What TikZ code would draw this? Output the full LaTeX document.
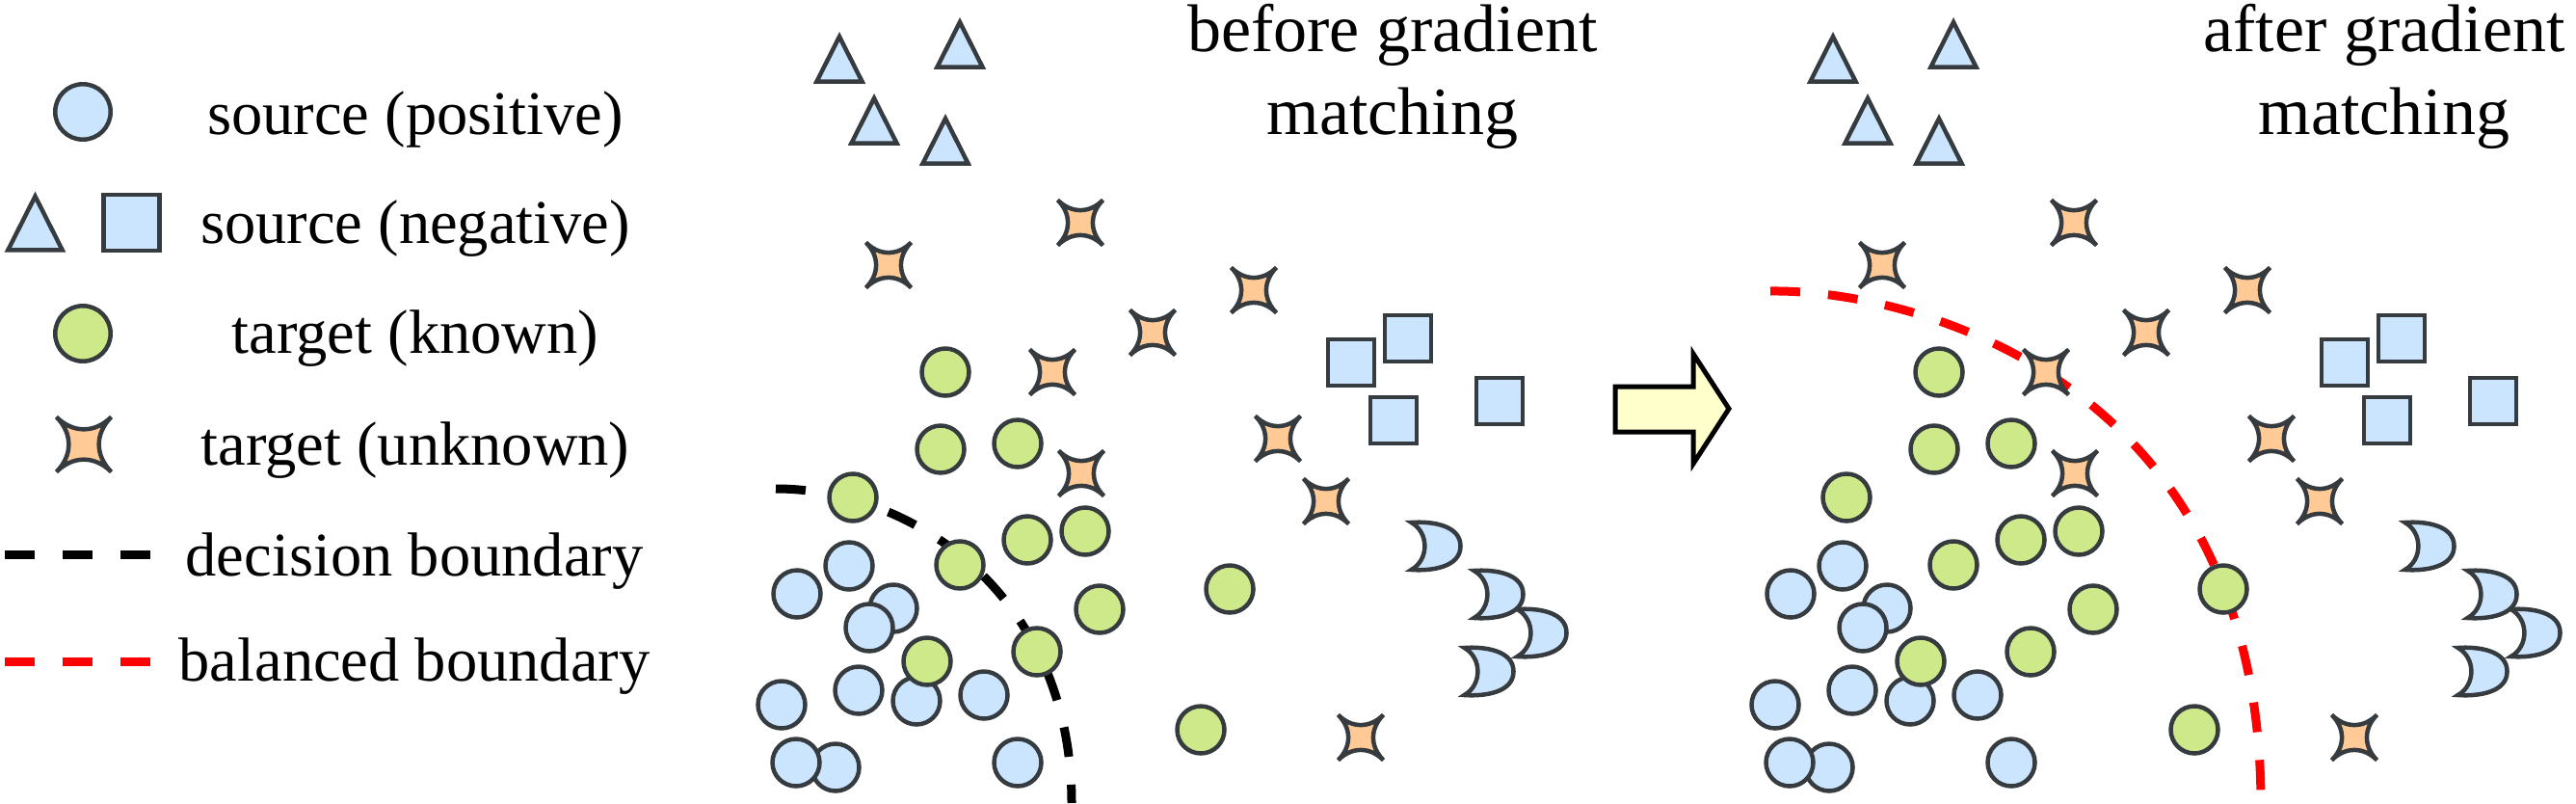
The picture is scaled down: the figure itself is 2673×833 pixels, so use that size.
\documentclass[tikz,border=0pt]{standalone}
\usepackage{fontspec}
\setmainfont{Liberation Serif}
\definecolor{olc}{HTML}{363B40}
\definecolor{bfill}{HTML}{CCE5FF}
\definecolor{gfill}{HTML}{CDE98A}
\definecolor{ofill}{HTML}{FFCA96}
\definecolor{afill}{HTML}{FFFFCC}
\tikzset{
  shapeline/.style={draw=olc, line width=4.5pt},
  pics/bdot/.style={code={\path[shapeline, fill=bfill] (0,0) circle[radius=#1];}},
  pics/bdot/.default=24.5,
  pics/gdot/.style={code={\path[shapeline, fill=gfill] (0,0) circle[radius=#1];}},
  pics/gdot/.default=24.5,
  pics/tri/.style={code={\path[shapeline, fill=bfill] (0,-22*#1) -- (23.5*#1,24.5*#1) -- (-23.5*#1,24.5*#1) -- cycle;}},
  pics/tri/.default=1,
  pics/sq/.style={code={\path[shapeline, fill=bfill] (-#1,-#1) rectangle (#1,#1);}},
  pics/sq/.default=24,
  pics/star4/.style={code={\path[shapeline, fill=ofill]
     (-#1,-#1) .. controls (-0.4*#1,-0.4*#1) and (0.4*#1,-0.4*#1) .. (#1,-#1)
     .. controls (0.4*#1,-0.4*#1) and (0.4*#1,0.4*#1) .. (#1,#1)
     .. controls (0.4*#1,0.4*#1) and (-0.4*#1,0.4*#1) .. (-#1,#1)
     .. controls (-0.4*#1,0.4*#1) and (-0.4*#1,-0.4*#1) .. (-#1,-#1) -- cycle;}},
  pics/star4/.default=23.5,
  pics/moon/.style={code={\path[shapeline, fill=bfill]
     (-25.5,-24.5) .. controls (-5,-26) and (25.5,-22) .. (25.5,0)
     .. controls (25.5,22) and (-5,26) .. (-25.5,24.5)
     .. controls (-7,14) and (-7,-14) .. (-25.5,-24.5) -- cycle;}},
  boundary/.style={line width=9pt, dash pattern=on 31pt off 29pt},
  legtext/.style={font=\fontsize{64.5pt}{77pt}\selectfont, inner sep=0pt, anchor=base},
  ttl/.style={font=\fontsize{70pt}{84pt}\selectfont, inner sep=0pt, anchor=base},
}
\newcommand\drawpanel{%
  % triangles
  \pic at (871,60) {tri};
  \pic at (996,45) {tri};
  \pic at (907,124) {tri};
  \pic at (981,145) {tri};
  % stars
  \pic at (922,275) {star4};
  \pic at (1121,231) {star4};
  \pic at (1301,301) {star4};
  \pic at (1196,345) {star4};
  \pic at (1092,386) {star4};
  \pic at (1326,455) {star4};
  \pic at (1122,491) {star4};
  \pic at (1376,520) {star4};
  \pic at (1412,765) {star4};
  % squares
  \pic at (1402,376) {sq};
  \pic at (1461,351) {sq};
  \pic at (1446,436) {sq};
  \pic at (1556,416) {sq};
  % moons
  \pic at (1490,566.5) {moon};
  \pic at (1600,656.5) {moon};
  \pic at (1555,616.5) {moon};
  \pic at (1545,696.5) {moon};
  % source positive
  \pic at (881,587) {bdot};
  \pic at (827,616) {bdot};
  \pic at (927,631) {bdot};
  \pic at (902,651) {bdot};
  \pic at (891,716) {bdot};
  \pic at (951,727) {bdot};
  \pic at (811,731) {bdot};
  \pic at (1021,721) {bdot};
  \pic at (867,796) {bdot};
  \pic at (826,791) {bdot};
  \pic at (1056,791) {bdot};
  % target known
  \pic at (981,386) {gdot};
  \pic at (976,466) {gdot};
  \pic at (1056,460) {gdot};
  \pic at (885,516) {gdot};
  \pic at (996,586) {gdot};
  \pic at (1066,560) {gdot};
  \pic at (1126,551) {gdot};
  \pic at (1141,632) {gdot};
  \pic at (1276,611) {gdot};
  \pic at (962,686) {gdot};
  \pic at (1076,676) {gdot};
  \pic at (1246,757) {gdot};
}
\begin{document}
\begin{tikzpicture}[x=1pt,y=-1pt]
\fill[white] (0,0) rectangle (2673,833);
\useasboundingbox (0,0) rectangle (2673,833);

% ---- legend ----
\pic at (86,116) {bdot=28.75};
\pic at (36.5,230) {tri=1.2};
\pic at (136.5,231) {sq=29};
\pic at (86,346) {gdot=28.75};
\pic at (87,461) {star4=28.5};
\coordinate (kb1) at (5,575);
\coordinate (kb2) at (156,575);
\coordinate (kr1) at (5,686);
\coordinate (kr2) at (156,686);
\draw[boundary, black] (kb1) -- (kb2);
\draw[boundary, red] (kr1) -- (kr2);
\node[legtext] (l1) at (431,139) {source (positive)};
\node[legtext] (l2) at (431,252) {source (negative)};
\node[legtext] (l3) at (431,366) {target (known)};
\node[legtext] (l4) at (431,482) {target (unknown)};
\node[legtext] (l5) at (430,597) {decision boundary};
\node[legtext] (l6) at (430,706) {balanced boundary};

% ---- left panel ----
\coordinate (db1) at (805,507);
\coordinate (db2) at (1112,833);
\draw[boundary, black] (db1) .. controls (950,507) and (1112,620) .. (db2);
\drawpanel
\node[ttl] (bt1) at (1445,53) {before gradient};
\node[ttl] (bt2) at (1445,139) {matching};

% ---- arrow ----
\path[draw=black, line width=5pt, fill=afill]
  (1676,401) -- (1757,401) -- (1757,367) -- (1794,424) -- (1757,481)
  -- (1757,448) -- (1676,448) -- cycle;

% ---- right panel ----
\coordinate (rb1) at (1837,302);
\coordinate (rb2) at (2346,833);
\draw[boundary, red] (rb1) .. controls (1980,300) and (2345,390) .. (rb2);
\begin{scope}[xshift=1031pt]
\drawpanel
\end{scope}
\node[ttl] (at1) at (2474,53) {after gradient};
\node[ttl] (at2) at (2474,139) {matching};
\end{tikzpicture}
\end{document}
